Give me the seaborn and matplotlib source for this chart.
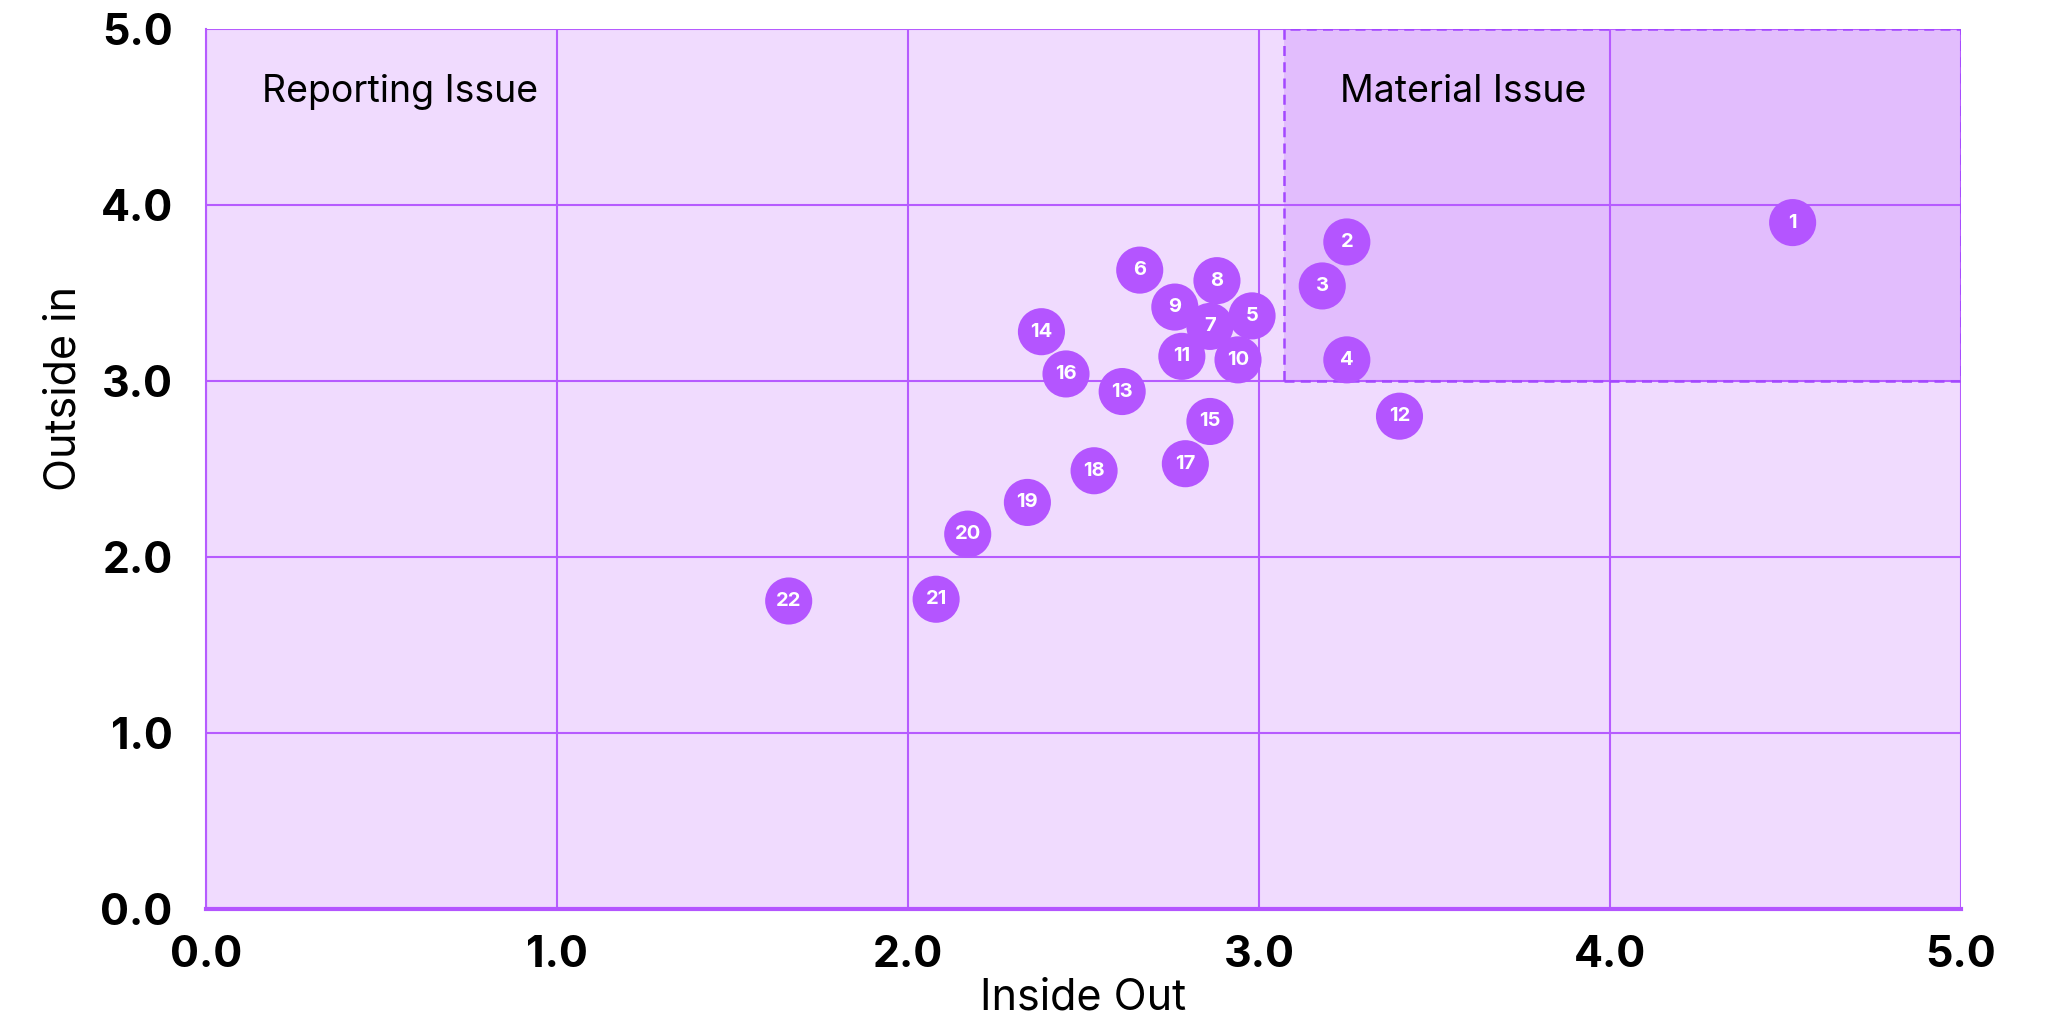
# %% Imports
import pandas as pd
import numpy as np
import matplotlib
matplotlib.use('Agg')
import matplotlib.pyplot as plt
from matplotlib.patches import Rectangle
import seaborn as sns

# %% Data
ids = list(range(1, 23))
inside_out = [4.52, 3.25, 3.18, 3.25, 2.98, 2.66, 2.86, 2.88, 2.76, 2.94, 2.78,
              3.40, 2.61, 2.38, 2.86, 2.45, 2.79, 2.53, 2.34, 2.17, 2.08, 1.66]
outside_in = [3.90, 3.79, 3.54, 3.12, 3.37, 3.63, 3.31, 3.57, 3.42, 3.12, 3.14,
              2.80, 2.94, 3.28, 2.77, 3.04, 2.53, 2.49, 2.31, 2.13, 1.76, 1.75]
ticks = [0.0, 1.0, 2.0, 3.0, 4.0, 5.0]
tick_labels = ['0.0', '1.0', '2.0', '3.0', '4.0', '5.0']

df = pd.DataFrame({'id': ids, 'Inside Out': inside_out, 'Outside in': outside_in})

# %% Style
purple = '#B455FF'
grid_col = '#B65BFF'
light_bg = '#F0DBFE'
material_bg = '#E2BDFD'
edge_col = '#A347FF'

sns.set_theme(style='white')
plt.rcParams['font.family'] = ['Inter', 'DejaVu Sans']

fig = plt.figure(figsize=(20.6, 10.24), dpi=100)
ax = fig.add_axes([0.1, 0.1123, 0.852, 0.8594])
ax.set_facecolor(light_bg)

# material issue region
ax.add_patch(Rectangle((3.07, 3.0), 5.0 - 3.07, 2.0, facecolor=material_bg,
                       edgecolor='none', zorder=0.2))
ax.add_patch(Rectangle((3.07, 3.0), 5.0 - 3.07, 2.0, facecolor='none',
                       edgecolor=edge_col, lw=1.8, ls=(0, (4, 2.5)), zorder=1.5))

sns.scatterplot(data=df, x='Inside Out', y='Outside in', s=1150, color=purple,
                edgecolor='none', linewidth=0, ax=ax, zorder=3, legend=False)

for i, x, y in zip(ids, inside_out, outside_in):
    ax.text(x, y, str(i), color='white', fontsize=14.5, fontweight='bold',
            ha='center', va='center', zorder=4)

ax.text(0.16, 4.64, 'Reporting Issue', fontsize=27, ha='left', va='center', color='black')
ax.text(3.23, 4.64, 'Material Issue', fontsize=27, ha='left', va='center', color='black')

# %% Axes
ax.set_xlim(0, 5)
ax.set_ylim(0, 5)
ax.set_xticks(ticks)
ax.set_yticks(ticks)
ax.set_xticklabels(tick_labels, fontsize=31, fontweight='bold', color='black')
ax.set_yticklabels(tick_labels, fontsize=31, fontweight='bold', color='black')
ax.tick_params(axis='x', length=0, pad=19)
ax.tick_params(axis='y', length=0, pad=24)
ax.set_axisbelow(True)
ax.grid(True, color=grid_col, lw=1.5, zorder=0.5)

for side in ['top', 'right']:
    ax.spines[side].set_visible(False)
ax.spines['left'].set_color(grid_col)
ax.spines['left'].set_linewidth(1.5)
ax.spines['bottom'].set_color(purple)
ax.spines['bottom'].set_linewidth(3)

ax.set_xlabel('Inside Out', fontsize=31, color='black')
ax.set_ylabel('Outside in', fontsize=31, color='black')
ax.xaxis.set_label_coords(0.5, -0.078)
ax.yaxis.set_label_coords(-0.069, 0.592)

fig.savefig('out.png', dpi=100)
plt.close(fig)
